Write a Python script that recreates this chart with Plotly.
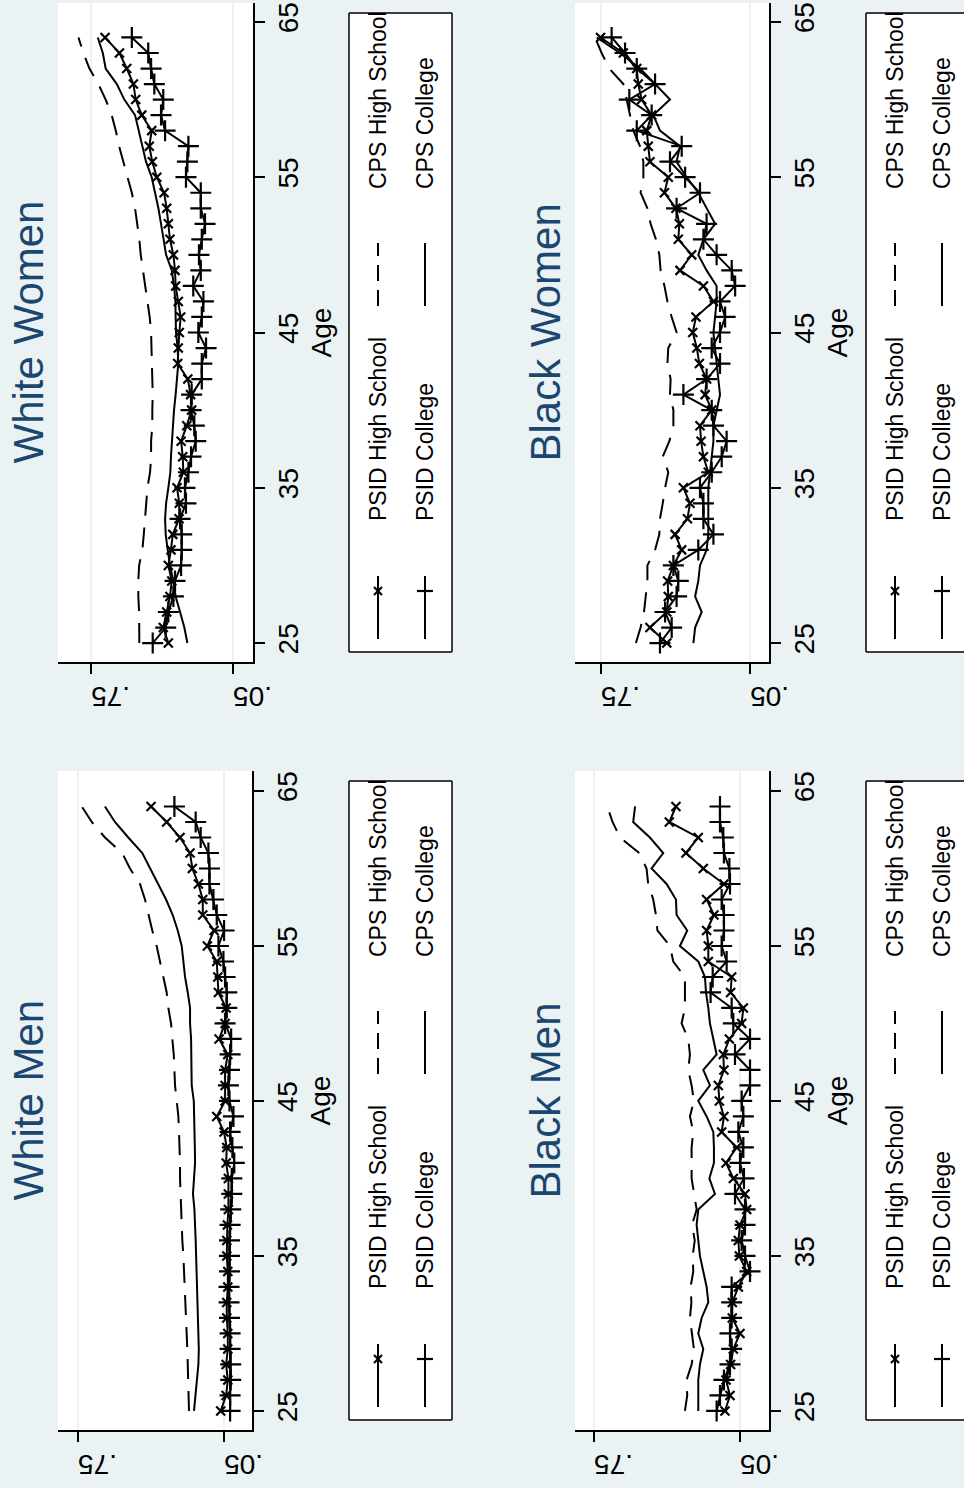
import plotly.graph_objects as go

ages = list(range(25, 65))

# ---- White Women (ages 25..64)
ww_psid_hs = [.369,.394,.377,.361,.352,.369,.356,.347,.316,.315,.326,.295,.298,.306,.278,.254,.259,.273,.323,.320,
              .315,.308,.320,.333,.336,.344,.361,.369,.377,.390,.426,.448,.463,.451,.500,.530,.541,.574,.610,.681]
ww_psid_col = [.446,.382,.369,.344,.336,.306,.303,.303,.311,.282,.287,.270,.257,.234,.241,.257,.254,.204,.204,.183,
               .221,.204,.196,.246,.209,.218,.204,.188,.209,.209,.282,.275,.270,.385,.405,.394,.438,.454,.468,.549]
ww_cps_hs = [.512,.512,.513,.517,.517,.513,.497,.490,.484,.477,.472,.459,.454,.454,.448,.448,.446,.448,.449,.451,
             .454,.461,.472,.484,.492,.505,.512,.522,.533,.549,.569,.591,.612,.628,.648,.678,.714,.758,.788,.812]
ww_cps_col = [.275,.290,.311,.333,.344,.361,.372,.382,.385,.380,.369,.359,.356,.352,.346,.341,.333,.328,.320,.323,
              .331,.333,.334,.341,.352,.380,.394,.405,.418,.435,.451,.479,.497,.517,.533,.586,.623,.678,.692,.717]

# ---- White Men
wm_psid_hs = [.066,.040,.032,.040,.032,.032,.037,.037,.032,.032,.037,.037,.034,.029,.029,.029,.040,.037,.050,.085,.045,
              .045,.045,.032,.074,.045,.040,.077,.080,.085,.130,.098,.152,.152,.173,.202,.213,.261,.325,.400]
wm_psid_col = [.021,.021,.018,.018,.021,.021,.024,.026,.026,.024,.024,.024,.021,.018,.013,.013,.001,.010,.021,.005,.024,
               .029,.024,.021,.016,.045,.037,.037,.045,.053,.077,.050,.085,.101,.120,.120,.125,.162,.186,.288]
wm_cps_hs = [.218,.219,.221,.224,.226,.229,.231,.234,.237,.242,.245,.250,.253,.256,.259,.261,.261,.262,.266,.269,.277,
             .285,.288,.291,.298,.304,.317,.325,.341,.357,.373,.394,.410,.429,.453,.501,.538,.621,.684,.732]
wm_cps_col = [.194,.186,.179,.173,.171,.173,.173,.176,.178,.181,.183,.186,.189,.192,.199,.195,.189,.190,.192,.192,.195,
              .205,.205,.205,.208,.213,.213,.224,.237,.245,.253,.272,.296,.328,.365,.405,.442,.509,.573,.621]

# ---- Black Women
bw_psid_hs = [.441,.520,.441,.434,.437,.410,.371,.402,.344,.332,.363,.246,.269,.280,.285,.230,.261,.254,.288,.300,
              .319,.304,.222,.269,.379,.324,.387,.382,.398,.452,.434,.520,.528,.535,.512,.559,.575,.582,.645,.752]
bw_psid_col = [.473,.418,.449,.395,.387,.410,.293,.222,.269,.269,.285,.230,.183,.160,.222,.230,.363,.254,.191,.230,
               .191,.167,.191,.120,.136,.207,.269,.254,.395,.285,.355,.426,.371,.582,.512,.617,.496,.582,.637,.700]
bw_cps_hs = [.586,.564,.548,.539,.532,.532,.496,.476,.473,.460,.449,.434,.460,.429,.410,.410,.426,.423,.438,.434,
             .395,.418,.438,.452,.470,.476,.492,.517,.532,.564,.551,.551,.567,.598,.614,.629,.645,.711,.747,.778]
bw_cps_col = [.316,.308,.277,.308,.293,.285,.254,.246,.246,.246,.246,.238,.230,.222,.222,.207,.191,.199,.207,.214,
              .222,.214,.207,.207,.254,.293,.269,.214,.254,.293,.348,.395,.379,.473,.504,.426,.496,.567,.661,.770]

# ---- Black Men
bm_psid_hs = [.122,.098,.117,.095,.082,.050,.087,.087,.058,.018,.053,.058,.050,.018,.026,.082,.117,.066,.138,.127,.149,
              .154,.127,.130,.101,.042,.034,.095,.090,.202,.202,.210,.175,.210,.127,.226,.309,.250,.389,.357]
bm_psid_col = [.162,.146,.127,.098,.090,.098,.090,.090,.090,.002,.026,.042,.026,.026,.074,.031,.050,.034,.058,.034,.042,
               .002,.002,.074,.002,.082,.090,.191,.181,.114,.138,.127,.127,.138,.098,.101,.127,.130,.146,.146]
bm_cps_hs = [.314,.303,.306,.282,.271,.282,.290,.283,.287,.274,.277,.267,.280,.258,.271,.282,.282,.282,.274,.290,.271,
             .282,.298,.290,.298,.330,.314,.314,.314,.370,.386,.446,.453,.466,.490,.498,.533,.625,.661,.686]
bm_cps_col = [.250,.250,.250,.242,.226,.250,.234,.202,.210,.226,.242,.250,.258,.250,.170,.197,.175,.175,.178,.210,.250,
              .194,.226,.162,.178,.194,.202,.213,.218,.250,.338,.303,.354,.357,.402,.474,.418,.482,.562,.553]

series_names = ["PSID High School", "PSID College", "CPS High School", "CPS College"]
titles = ["White Women", "Black Women", "White Men", "Black Men"]
age_ticks = [25, 35, 45, 55, 65]
val_ticks = [0.05, 0.75]
val_tick_text = [".05", ".75"]

W, H = 964, 1488
BG = "#eaf2f3"
TITLE_COLOR = "#1a476f"
FONT = "Liberation Sans, Arial, Helvetica, sans-serif"

def px(x):
    return min(x, W) / W

def py(y):
    return 1 - y / H

panels = [
    dict(data=[ww_psid_hs, ww_psid_col, ww_cps_hs, ww_cps_col], box=(58, 253, 3, 662),
         vrange=[0.913, -0.0485], arange=[23.78, 66.22], title=titles[0]),
    dict(data=[bw_psid_hs, bw_psid_col, bw_cps_hs, bw_cps_col], box=(575, 769, 3, 662),
         vrange=[0.872, -0.039], arange=[23.78, 66.22], title=titles[1]),
    dict(data=[wm_psid_hs, wm_psid_col, wm_cps_hs, wm_cps_col], box=(58, 252, 771, 1430),
         vrange=[0.846, -0.084], arange=[23.77, 66.29], title=titles[2]),
    dict(data=[bm_psid_hs, bm_psid_col, bm_cps_hs, bm_cps_col], box=(575, 769, 771, 1430),
         vrange=[0.841, -0.089], arange=[23.77, 66.29], title=titles[3]),
]

styles = [
    dict(mode="lines+markers", line=dict(color="black", width=2),
         marker=dict(symbol="x-thin", size=9, line=dict(color="black", width=2.2))),
    dict(mode="lines+markers", line=dict(color="black", width=2),
         marker=dict(symbol="cross-thin", size=15, line=dict(color="black", width=2.2))),
    dict(mode="lines", line=dict(color="black", width=2, dash="20px,12px")),
    dict(mode="lines", line=dict(color="black", width=2)),
]

fig = go.Figure()
shapes = []
annotations = []

def seg(x0, y0, x1, y1, width=2, dash=None):
    ln = dict(color="black", width=width)
    if dash:
        ln["dash"] = dash
    return dict(type="line", xref="paper", yref="paper", x0=px(x0), x1=px(x1),
                y0=py(y0), y1=py(y1), line=ln)

for i, p in enumerate(panels):
    n = "" if i == 0 else str(i + 1)
    xa, ya = "x" + n, "y" + n
    for s, vals in enumerate(p["data"]):
        fig.add_trace(go.Scatter(x=vals, y=ages, xaxis=xa, yaxis=ya, name=series_names[s],
                                 showlegend=False, hoverinfo="skip", **styles[s]))
    l, r, t, b = p["box"]
    fig.update_layout(**{
        "xaxis" + n: dict(domain=[px(l), px(r)], range=p["vrange"], anchor=ya, automargin=False,
                          tickvals=val_ticks, ticktext=val_tick_text, tickangle=180,
                          ticks="outside", ticklen=10, tickwidth=1.5, tickcolor="black",
                          ticklabelstandoff=8,
                          showline=True, linecolor="black", linewidth=1.5,
                          showgrid=True, gridcolor=BG, gridwidth=2, zeroline=False,
                          tickfont=dict(size=28, family=FONT, color="black"), fixedrange=True),
        "yaxis" + n: dict(domain=[py(b), py(t)], range=p["arange"], anchor=xa, side="right",
                          automargin=False,
                          tickvals=age_ticks, tickangle=-90,
                          ticks="outside", ticklen=10, tickwidth=1.5, tickcolor="black",
                          showline=True, linecolor="black", linewidth=1.5,
                          showgrid=False, zeroline=False,
                          title=dict(text="Age", font=dict(size=28, family=FONT, color="black"), standoff=8),
                          tickfont=dict(size=28, family=FONT, color="black"), fixedrange=True),
    })
    annotations.append(dict(text=p["title"], x=px(l - 30), y=py((t + b) / 2), xref="paper", yref="paper",
                            textangle=-90, showarrow=False, xanchor="center", yanchor="middle",
                            font=dict(size=42, family=FONT, color=TITLE_COLOR)))
    lx0 = 349 if l < 400 else 866
    lx1 = lx0 + 103
    ly0 = t + 10
    ly1 = b - 10
    shapes.append(dict(type="rect", xref="paper", yref="paper", x0=px(lx0), x1=px(lx1),
                       y0=py(ly1), y1=py(ly0), line=dict(width=0), fillcolor="white", layer="below"))
    shapes.append(seg(lx0, ly0, lx0, ly1, 1.5))
    shapes.append(seg(lx0, ly0, lx1, ly0, 1.5))
    shapes.append(seg(lx0, ly1, lx1, ly1, 1.5))
    if lx1 <= W:
        shapes.append(seg(lx1, ly0, lx1, ly1, 1.5))
    c1, c2 = lx0 + 29, lx0 + 76
    for cx in (c1, c2):
        shapes.append(seg(cx, ly0 + 563, cx, ly0 + 626))
    mk = ly0 + 578
    shapes.append(seg(c1 - 4, mk - 4, c1 + 4, mk + 4, 2.2))
    shapes.append(seg(c1 - 4, mk + 4, c1 + 4, mk - 4, 2.2))
    shapes.append(seg(c2 - 8, mk, c2 + 8, mk, 2.2))
    shapes.append(seg(c1, ly0 + 293, c1, ly0 + 230, 2, "16px,9px"))
    shapes.append(seg(c2, ly0 + 293, c2, ly0 + 230, 2))
    for cx, yb, txt in [(c1, ly0 + 510, series_names[0]), (c2, ly0 + 510, series_names[1]),
                        (c1, ly0 + 178, series_names[2]), (c2, ly0 + 178, series_names[3])]:
        annotations.append(dict(text=txt, x=px(cx), y=py(yb), xref="paper", yref="paper",
                                textangle=-90, showarrow=False, xanchor="center", yanchor="bottom",
                                font=dict(size=23, family=FONT, color="black")))

fig.update_layout(width=W, height=H, autosize=False,
                  margin=dict(l=0, r=0, t=0, b=0, pad=0, autoexpand=False),
                  paper_bgcolor=BG, plot_bgcolor="white", showlegend=False,
                  shapes=shapes, annotations=annotations)

fig.write_html("out.html",
               config={"displayModeBar": False, "responsive": False},
               post_script=("var de=document.documentElement, bd=document.body;"
                            "de.style.overflow='hidden'; bd.style.overflow='hidden';"
                            "bd.style.margin='0'; bd.style.padding='0';"
                            "bd.style.background='" + BG + "';"))
